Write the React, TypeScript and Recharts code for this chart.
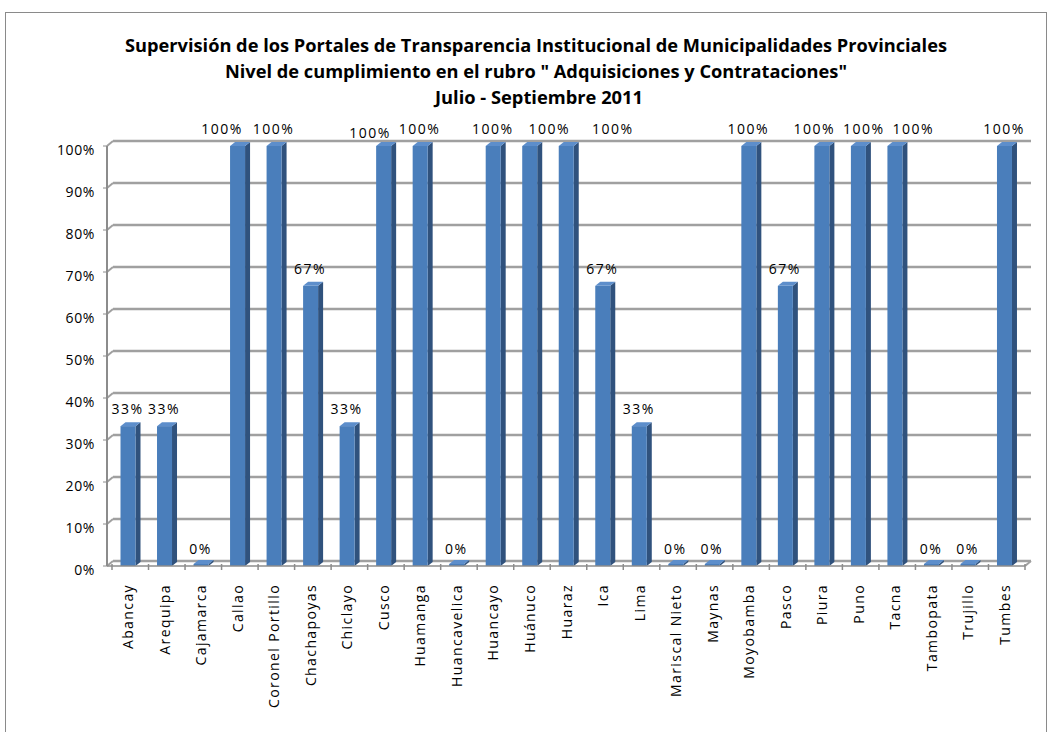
import { BarChart, Bar, XAxis, YAxis, CartesianGrid, LabelList } from "recharts";

// Nivel de cumplimiento por municipalidad provincial (0..1)
const categories = [
  "Abancay", "Arequipa", "Cajamarca", "Callao", "Coronel Portillo", "Chachapoyas",
  "Chiclayo", "Cusco", "Huamanga", "Huancavelica", "Huancayo", "Huánuco", "Huaraz",
  "Ica", "Lima", "Mariscal Nieto", "Maynas", "Moyobamba", "Pasco", "Piura", "Puno",
  "Tacna", "Tambopata", "Trujillo", "Tumbes",
];
const cumplimiento = [
  0.333, 0.333, 0, 1, 1, 0.667, 0.333, 1, 1, 0, 1, 1, 1,
  0.667, 0.333, 0, 0, 1, 0.667, 1, 1, 1, 0, 0, 1,
];
const yTicks = [0, 0.1, 0.2, 0.3, 0.4, 0.5, 0.6, 0.7, 0.8, 0.9, 1];
const titleLines = [
  "Supervisión de los Portales de Transparencia Institucional de Municipalidades Provinciales",
  "Nivel de cumplimiento en el rubro \" Adquisiciones y Contrataciones\"",
  "Julio - Septiembre 2011",
];

// Excel moved a few labels sideways to avoid overlaps
const labelNudge: Record<string, [number, number]> = {
  Callao: [-15, 0],
  Cusco: [-13, 4],
  "Huánuco": [20, 0],
  Huaraz: [47, 0],
  Piura: [-7, 0],
  Puno: [6, 0],
  Tacna: [19, 0],
};

const data = categories.map((name, i) => ({ name, value: cumplimiento[i] }));

const FONT = "'Open Sans', sans-serif";
const DEPTH_X = 5;
const DEPTH_Y = 4;

function Bar3D(props: any) {
  const { x, y, width, height } = props;
  const fx = x - 2.5;
  const h = Math.max(height, 0);
  const top = h > 0 ? y : y - 2;
  const bottom = y + h;
  return (
    <g>
      <polygon
        points={`${fx + width},${top} ${fx + width + DEPTH_X},${top - DEPTH_Y} ${fx + width + DEPTH_X},${bottom - DEPTH_Y} ${fx + width},${bottom}`}
        fill="#30527d"
      />
      <polygon
        points={`${fx},${top} ${fx + DEPTH_X},${top - DEPTH_Y} ${fx + width + DEPTH_X},${top - DEPTH_Y} ${fx + width},${top}`}
        fill="#5d8ecb"
      />
      <rect x={fx} y={top} width={width} height={bottom - top} fill="#4a7ebb" />
    </g>
  );
}

function GridLine(props: any) {
  const { x1, x2, y1, index } = props;
  const isFloor = Math.abs(y1 - 566) < 1;
  return (
    <g key={`g-${index}`}>
      <line x1={x1} y1={y1} x2={x1 + 6} y2={y1 - DEPTH_Y - 1} stroke="#a0a0a0" strokeWidth={2} />
      <line x1={x1 + 6} y1={y1 - DEPTH_Y - 1} x2={x2 + 6} y2={y1 - DEPTH_Y - 1} stroke="#a0a0a0" strokeWidth={2.5} />
      {isFloor && (
        <line x1={x2} y1={y1} x2={x2 + 6} y2={y1 - DEPTH_Y - 1} stroke="#a0a0a0" strokeWidth={2} />
      )}
    </g>
  );
}

function CategoryTick(props: any) {
  const { x, y, payload, index } = props;
  const half = 913 / 25 / 2;
  return (
    <g>
      <line x1={x - half} y1={y - 10} x2={x - half} y2={y - 4} stroke="#8c8c8c" strokeWidth={1.5} />
      {index === categories.length - 1 && (
        <line x1={x + half} y1={y - 10} x2={x + half} y2={y - 4} stroke="#8c8c8c" strokeWidth={1.5} />
      )}
      <text
        x={x + 3}
        y={y + 10}
        transform={`rotate(-90, ${x + 3}, ${y + 10})`}
        textAnchor="end"
        fontFamily={FONT}
        fontSize={14}
        letterSpacing={1.4}
        fill="#000"
      >
        {payload.value}
      </text>
    </g>
  );
}

function ValueLabel(props: any) {
  const { x, y, width, value, index } = props;
  const name = categories[index];
  const [dx, dy] = labelNudge[name] ?? [0, 0];
  const cx = x - 2.5 + (width + DEPTH_X) / 2 - 3 + dx;
  return (
    <text
      x={cx}
      y={y - 12 + dy}
      textAnchor="middle"
      fontFamily={FONT}
      fontSize={14}
      letterSpacing={1.5}
      fill="#000"
    >
      {`${Math.round(value * 100)}%`}
    </text>
  );
}

export default function App() {
  return (
    <div style={{ position: "absolute", left: 0, top: 0, width: 1053, height: 732, background: "#fff" }}>
      <div
        style={{
          position: "absolute",
          left: 5,
          top: 12,
          width: 1042,
          height: 740,
          border: "1px solid #8a8a8a",
          boxSizing: "border-box",
        }}
      />
      <svg width={1053} height={120} style={{ position: "absolute", left: 0, top: 0 }}>
        <text x={536} y={52} textAnchor="middle" fontFamily={FONT} fontWeight="bold" fontSize={18} textLength={822} lengthAdjust="spacingAndGlyphs">
          {titleLines[0]}
        </text>
        <text x={536} y={78} textAnchor="middle" fontFamily={FONT} fontWeight="bold" fontSize={18} textLength={622} lengthAdjust="spacingAndGlyphs">
          {titleLines[1]}
        </text>
        <text x={539} y={104} textAnchor="middle" fontFamily={FONT} fontWeight="bold" fontSize={18} textLength={208} lengthAdjust="spacingAndGlyphs">
          {titleLines[2]}
        </text>
      </svg>
      <div style={{ position: "absolute", left: 0, top: 0 }}>
        <BarChart
          width={1053}
          height={732}
          data={data}
          margin={{ top: 146, right: 28, bottom: 6, left: 12 }}
          barCategoryGap={0}
        >
          <CartesianGrid vertical={false} horizontal={(p: any) => <GridLine {...p} />} />
          <XAxis
            dataKey="name"
            interval={0}
            height={160}
            padding={{ left: 5, right: 0 }}
            axisLine={{ stroke: "#8c8c8c", strokeWidth: 1.5 }}
            tickLine={false}
            tick={<CategoryTick />}
          />
          <YAxis
            width={95}
            domain={[0, 1]}
            ticks={yTicks}
            interval={0}
            tickSize={4}
            tickMargin={8}
            axisLine={{ stroke: "#8c8c8c", strokeWidth: 2 }}
            tickLine={{ stroke: "#8c8c8c" }}
            tickFormatter={(v: number) => `${Math.round(v * 100)}%`}
            tick={{ fontFamily: FONT, fontSize: 14, fill: "#000", letterSpacing: 0.6, dy: 4 }}
          />
          <Bar dataKey="value" barSize={15} shape={<Bar3D />} isAnimationActive={false}>
            <LabelList dataKey="value" content={<ValueLabel />} />
          </Bar>
        </BarChart>
      </div>
    </div>
  );
}
